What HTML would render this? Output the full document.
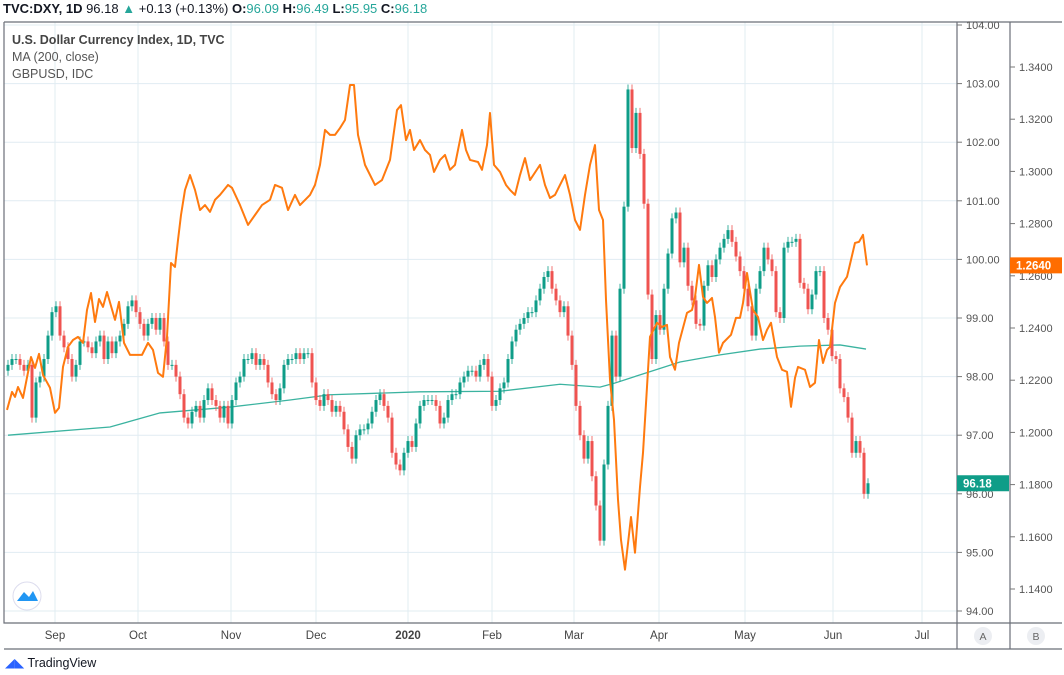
<!DOCTYPE html>
<html><head><meta charset="utf-8"><style>
body{margin:0;width:1064px;height:675px;background:#fff;font-family:"Liberation Sans",sans-serif;overflow:hidden;position:relative}
.hdr{position:absolute;left:3px;top:1px;font-size:13px;color:#131722;white-space:nowrap}
.hdr b{font-weight:bold}.t{color:#26a69a}
.leg{position:absolute;left:12px;font-size:12.5px;color:#555}
</style></head><body>
<div class="hdr"><b>TVC:DXY, 1D</b> 96.18 <span class="t">▲</span> +0.13 (+0.13%) <b>O:</b><span class="t">96.09</span> <b>H:</b><span class="t">96.49</span> <b>L:</b><span class="t">95.95</span> <b>C:</b><span class="t">96.18</span></div>
<svg id="c" width="1064" height="675" style="position:absolute;left:0;top:0"></svg>
<div class="leg" style="top:33px;font-weight:bold;color:#444">U.S. Dollar Currency Index, 1D, TVC</div>
<div class="leg" style="top:50px">MA (200, close)</div>
<div class="leg" style="top:67px">GBPUSD, IDC</div>
<div style="position:absolute;left:5px;top:655px;font-size:12.5px;color:#131722"><span style="color:#2962ff">◢◣</span> TradingView</div>
<script>
const closes=[98.2,98.3,98.3,98.2,98.1,98.2,97.3,97.9,98.0,98.3,98.7,99.1,99.2,98.7,98.5,98.3,98.0,98.2,98.6,98.6,98.5,98.4,98.6,98.7,98.3,98.6,98.4,98.6,98.7,98.9,99.2,99.3,99.1,98.9,98.7,98.9,99.0,98.8,99.0,98.6,98.2,98.2,98.0,97.7,97.3,97.2,97.4,97.5,97.3,97.6,97.8,97.6,97.5,97.3,97.5,97.2,97.6,97.9,98.0,98.3,98.3,98.4,98.2,98.3,98.2,97.9,97.7,97.6,97.8,98.2,98.3,98.3,98.4,98.3,98.4,98.4,97.9,97.6,97.5,
97.7,97.6,97.4,97.5,97.4,97.1,96.8,96.6,97.0,97.1,97.1,97.2,97.4,97.6,97.7,97.5,97.3,96.7,96.5,96.4,96.7,96.9,96.8,97.2,97.5,97.6,97.6,97.6,97.5,97.2,97.3,97.6,97.7,97.7,97.9,98.0,98.1,98.1,98.0,98.2,98.3,98.0,97.5,97.6,97.8,97.9,98.3,98.6,98.8,98.9,99.0,99.1,99.1,99.3,99.5,99.7,99.8,99.5,99.3,99.1,99.2,98.7,98.2,97.5,97.0,96.6,96.9,96.3,95.8,95.2,
96.5,97.5,98.7,98.0,99.5,100.9,102.9,101.9,102.5,101.8,100.95,99.4,98.3,99.05,98.8,99.5,100.1,100.7,100.8,99.95,100.2,99.55,99.3,98.9,98.87,99.55,99.9,99.7,100.0,100.2,100.35,100.5,100.3,100.05,99.8,99.5,99.2,98.7,99.5,99.8,100.2,100.0,99.8,99.1,99.0,100.2,100.3,100.3,100.35,99.6,99.5,99.15,99.4,99.8,99.8,99.0,98.8,98.35,98.3,97.8,97.65,97.3,96.7,96.9,96.7,96.0,96.18];
const maIdx=[0,25.5,38,55.5,70.5,80.5,103,123,138,148,151.75,158,168,178,188,198,208,214.5];
const maVal=[97.00,97.14,97.38,97.48,97.60,97.69,97.74,97.75,97.87,97.82,97.89,98.03,98.25,98.37,98.47,98.52,98.54,98.47];
const gbpIdx=[-0.25,1,1.75,2.5,3.75,5.75,6.75,7.75,8.75,10.5,11.75,12.75,13.75,15,16.25,17.5,18.75,19.75,20.75,21.75,22.75,23.75,24.75,26.75,27.75,29,30.5,33.5,35,36.25,37.5,38.75,39.75,40.75,41.75,42.5,
43.25,44.25,45.5,46.75,48,49.25,50.5,51.75,53,55,56,58,60,61.75,63.5,65.5,66.75,68.5,70,71.75,73,75.5,76.75,78,79.25,80.5,81.75,83,84.25,85.5,86.5,87.5,89.25,91.75,93.5,95.5,97.25,98.25,99.5,100.5,101.5,103,104.25,105.5,106.5,108,109.25,110.5,111.75,113,113.5,114.5,115.5,117.5,118.5,119.75,120.5,121.5,123,124.5,125.5,126.75,128,129.25,130.5,133,134.25,135.5,136.75,138,139.25,140.5,141.75,143,144.25,145.5,146.75,147.75,148.75,149.5,150.5,151.5,152.5,153.25,
154.25,155.75,156.75,158,158.75,159.75,160.5,162.25,163.5,164.75,165.5,166.75,167.75,169.75,171,171.75,172.75,173.75,174.75,176,176.75,177.75,178.75,180.75,182,183,183.75,184.75,186.25,187.5,188.75,189.75,190.75,192.25,193.5,194.75,195.75,196.75,197.5,199.25,200.5,201.75,202.75,203.75,204.75,205.5,206.75,208,209.75,211.75,212.75,213.75,214.75];
const gbpVal=[1.2086,1.2155,1.2136,1.2174,1.2132,1.2289,1.2247,1.2301,1.2220,1.2171,1.2075,1.2094,1.2251,1.2328,1.2354,1.2366,1.2343,1.2469,1.2534,1.2423,1.2511,1.2481,1.2538,1.2431,1.2500,1.2343,1.2297,1.2297,1.2343,1.2316,1.2228,1.2213,1.2366,1.2649,1.2634,1.2737,
1.2833,1.2929,1.2986,1.2929,1.2852,1.2871,1.2845,1.2891,1.2910,1.2948,1.2937,1.2871,1.2795,1.2833,1.2871,1.2891,1.2948,1.2937,1.2852,1.2910,1.2871,1.2910,1.2948,1.3025,1.3159,1.3140,1.3140,1.3166,1.3197,1.3331,1.3331,1.3140,1.3025,1.2948,1.2967,1.3044,1.3235,1.3254,1.3120,1.3159,1.3082,1.3120,1.3082,1.3063,1.2998,1.3044,1.3063,1.3006,1.3025,1.3120,1.3159,1.3082,1.3044,1.3036,1.3006,1.3101,1.3224,1.3025,1.2998,1.2948,1.2929,1.2910,1.2986,1.3051,1.2967,1.3025,1.2948,1.2898,1.2910,1.2948,1.2986,1.2910,1.2814,1.2776,1.2910,1.3025,1.3101,1.2852,1.2814,1.2508,1.2201,1.2048,1.1742,1.1588,
1.1474,1.1676,1.1539,1.1791,1.1922,1.2174,1.2366,1.2420,1.2404,1.2412,1.2289,1.2240,1.2343,1.2458,1.2469,1.2519,1.2642,1.2519,1.2496,1.2515,1.2442,1.2305,1.2343,1.2374,1.2439,1.2439,1.2496,1.2611,1.2469,1.2442,1.2354,1.2393,1.2420,1.2289,1.2240,1.2232,1.2098,1.2209,1.2251,1.2240,1.2174,1.2190,1.2354,1.2266,1.2316,1.2328,1.2496,1.2557,1.2596,1.2726,1.2730,1.2757,1.2640];
const dxyTicks=[104,103,102,101,100,99,98,97,96,95,94];
const gbpTicks=[1.34,1.32,1.30,1.28,1.26,1.24,1.22,1.20,1.18,1.16,1.14];
const monthLabels=["Sep","Oct","Nov","Dec","2020","Feb","Mar","Apr","May","Jun","Jul"];
const monthIdx=[11.75,32.5,55.75,77,100,121,141.5,162.75,184.25,206.25,228.5];

const svg=document.getElementById('c');const NS='http://www.w3.org/2000/svg';
function el(t,a,p){const e=document.createElementNS(NS,t);for(const k in a)e.setAttribute(k,a[k]);(p||svg).appendChild(e);return e;}
const L=4,R=957,T=22,B=623;
const xS=i=>8+i*4;
const yA=v=>25+(104-v)*58.6;
const yB=v=>67+(1.34-v)*2610;
dxyTicks.forEach(v=>{const g=el('line',{x1:L,x2:R,y1:yA(v),y2:yA(v),stroke:'#e1ecf2'});
});
monthIdx.forEach(i=>{const g=el('line',{x1:xS(i),x2:xS(i),y1:T,y2:B,stroke:'#e1ecf2'});
});
let d='';maIdx.forEach((i,k)=>{d+=(k?'L':'M')+xS(i)+' '+yA(maVal[k]);});
const ma=el('path',{d:d,fill:'none',stroke:'#3bb3a0','stroke-width':1.3});

closes.forEach((c,i)=>{const o=i?closes[i-1]:c-0.1;const up=c>=o;const col=up?'#0f9d88':'#ef5350';
const x=xS(i);const top=yA(Math.max(o,c)),bot=yA(Math.min(o,c));
const w=el('line',{x1:x,x2:x,y1:top-5,y2:bot+5,stroke:col,'stroke-opacity':0.8,'stroke-width':1});

const r=el('rect',{x:x-1.5,y:top,width:3,height:Math.max(1,bot-top),fill:col});
});
d='';const n=Math.min(gbpIdx.length,gbpVal.length);
for(let k=0;k<n;k++)d+=(k?'L':'M')+xS(gbpIdx[k])+' '+yB(gbpVal[k]);
const gl=el('path',{d:d,fill:'none',stroke:'#ff7a0f','stroke-width':2,'stroke-linejoin':'round'});

const fr=el('path',{d:`M${L} ${T}V${B}H1062 M957 ${T}V649 M1010 ${T}V649 M${L} 649H1062 M${L} ${T}H1062`,fill:'none',stroke:'#6b6f78','stroke-width':1.2});

dxyTicks.forEach(v=>{const y=yA(v);el('line',{x1:957,x2:962,y1:y,y2:y,stroke:'#777'});
const t=el('text',{x:966,y:y+4,'font-size':11,fill:'#555'});t.textContent=v.toFixed(2);
});
gbpTicks.forEach(v=>{const y=yB(v);el('line',{x1:1010,x2:1015,y1:y,y2:y,stroke:'#777'});
const t=el('text',{x:1019,y:y+4,'font-size':11,fill:'#555'});t.textContent=v.toFixed(4);
});
const lc=closes[closes.length-1];
const r1=el('rect',{x:957,y:yA(lc)-8,width:52,height:16,fill:'#0f9d88'});

const t1=el('text',{x:963,y:yA(lc)+4,'font-size':11.5,'font-weight':'bold',fill:'#fff'});t1.textContent=lc.toFixed(2);

const lg=gbpVal[n-1];
const r2=el('rect',{x:1010,y:yB(lg)-8,width:52,height:16,fill:'#ff6d00'});

const t2=el('text',{x:1016,y:yB(lg)+4,'font-size':11.5,'font-weight':'bold',fill:'#fff'});t2.textContent=lg.toFixed(4);

monthLabels.forEach((m,k)=>{const t=el('text',{x:xS(monthIdx[k]),y:639,'font-size':11.5,fill:'#444','text-anchor':'middle','font-weight':m==='2020'?'bold':'normal'});t.textContent=m;
});
[['A',983],['B',1036]].forEach(([s,x])=>{const c=el('circle',{cx:x,cy:636,r:9,fill:'#eceef2'});

const t=el('text',{x:x,y:640,'font-size':10.5,fill:'#666','text-anchor':'middle'});t.textContent=s;
});
const lb=el('circle',{cx:27,cy:596,r:14,fill:'#fff',stroke:'#dde'});

const lp=el('path',{d:'M17 601L24 592L29 597L33 591L38 601Z',fill:'#2196f3'});

</script>
</body></html>
